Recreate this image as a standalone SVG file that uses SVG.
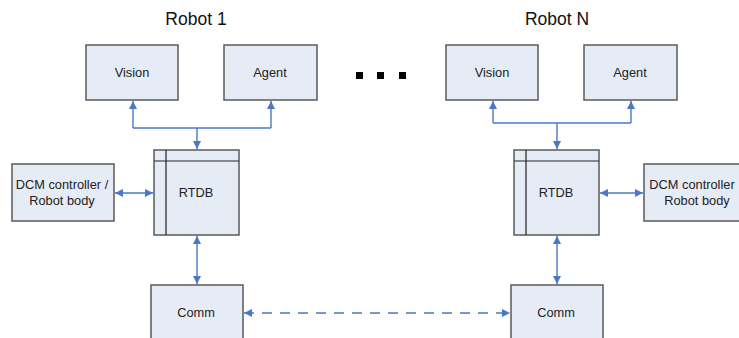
<svg xmlns="http://www.w3.org/2000/svg" width="739" height="338" viewBox="0 0 739 338">
  <defs>
    <marker id="arr" viewBox="0 0 10 10" refX="10" refY="5" markerWidth="9" markerHeight="8" markerUnits="userSpaceOnUse" orient="auto-start-reverse">
      <path d="M0,0 L10,5 L0,10 z" fill="#4A78C4"/>
    </marker>
  </defs>
  <style>
    .box { fill: #E6ECF6; stroke: #5A5A5A; stroke-width: 1.5; }
    .div { fill: none; stroke: #222; stroke-width: 1.2; }
    .lbl { font-family: "Liberation Sans", Arial, sans-serif; font-size: 12.8px; fill: #222; text-anchor: middle; }
    .ttl { font-family: "Liberation Sans", Arial, sans-serif; font-size: 17.5px; fill: #111; text-anchor: middle; }
    .con { fill: none; stroke: #4A78C4; stroke-width: 1.4; }
    .dash { stroke-dasharray: 10 8; }
  </style>
  <rect width="739" height="338" fill="#fff"/>

  <!-- titles -->
  <text class="ttl" x="196" y="25">Robot 1</text>
  <text class="ttl" x="557" y="25">Robot N</text>

  <!-- ellipsis between robots -->
  <g id="ellipsis" fill="#000">
    <rect x="356" y="72" width="7" height="7"/>
    <rect x="377" y="72" width="7" height="7"/>
    <rect x="399" y="72" width="7" height="7"/>
  </g>

  <!-- Robot 1 -->
  <g id="vision1"><rect class="box" x="86" y="45" width="92" height="55"/><text class="lbl" x="132" y="77">Vision</text></g>
  <g id="agent1"><rect class="box" x="224" y="45" width="93" height="55"/><text class="lbl" x="270" y="77">Agent</text></g>
  <g id="rtdb1"><rect class="box" x="154" y="150" width="85" height="85"/><path class="div" d="M154,161 H239 M166,150 V235"/><text class="lbl" x="196" y="197">RTDB</text></g>
  <g id="dcm1"><rect class="box" x="12" y="164" width="102" height="57"/><text class="lbl" x="62" y="189">DCM controller /</text><text class="lbl" x="62" y="205">Robot body</text></g>
  <g id="comm1"><rect class="box" x="151" y="285" width="92" height="60"/><text class="lbl" x="196" y="317">Comm</text></g>

  <!-- Robot N (body box runs off the right edge) -->
  <g id="visionN"><rect class="box" x="446" y="45" width="92" height="55"/><text class="lbl" x="492" y="77">Vision</text></g>
  <g id="agentN"><rect class="box" x="584" y="45" width="93" height="55"/><text class="lbl" x="630" y="77">Agent</text></g>
  <g id="rtdbN"><rect class="box" x="514" y="150" width="85" height="85"/><path class="div" d="M514,161 H599 M526,150 V235"/><text class="lbl" x="556" y="197">RTDB</text></g>
  <g id="dcmN"><rect class="box" x="644" y="164" width="102" height="57"/><text class="lbl" x="692" y="189">DCM controller</text><text class="lbl" x="697" y="205">Robot body</text></g>
  <g id="commN"><rect class="box" x="511" y="285" width="92" height="60"/><text class="lbl" x="556" y="317">Comm</text></g>

  <!-- connectors -->
  <g id="connectors">
    <path class="con" d="M133,128 V101" marker-end="url(#arr)"/>
    <path class="con" d="M271,128 V101" marker-end="url(#arr)"/>
    <path class="con" d="M133,128 H271"/>
    <path class="con" d="M197,128 V149" marker-end="url(#arr)"/>
    <path class="con" d="M115,193 H153" marker-start="url(#arr)" marker-end="url(#arr)"/>
    <path class="con" d="M197,236 V284" marker-start="url(#arr)" marker-end="url(#arr)"/>

    <path class="con" d="M493,123 V101" marker-end="url(#arr)"/>
    <path class="con" d="M631,123 V101" marker-end="url(#arr)"/>
    <path class="con" d="M493,123 H631"/>
    <path class="con" d="M557,123 V149" marker-end="url(#arr)"/>
    <path class="con" d="M600,193 H643" marker-start="url(#arr)" marker-end="url(#arr)"/>
    <path class="con" d="M557,236 V284" marker-start="url(#arr)" marker-end="url(#arr)"/>

    <path class="con dash" d="M244,313 H510" marker-start="url(#arr)" marker-end="url(#arr)"/>
  </g>
</svg>
